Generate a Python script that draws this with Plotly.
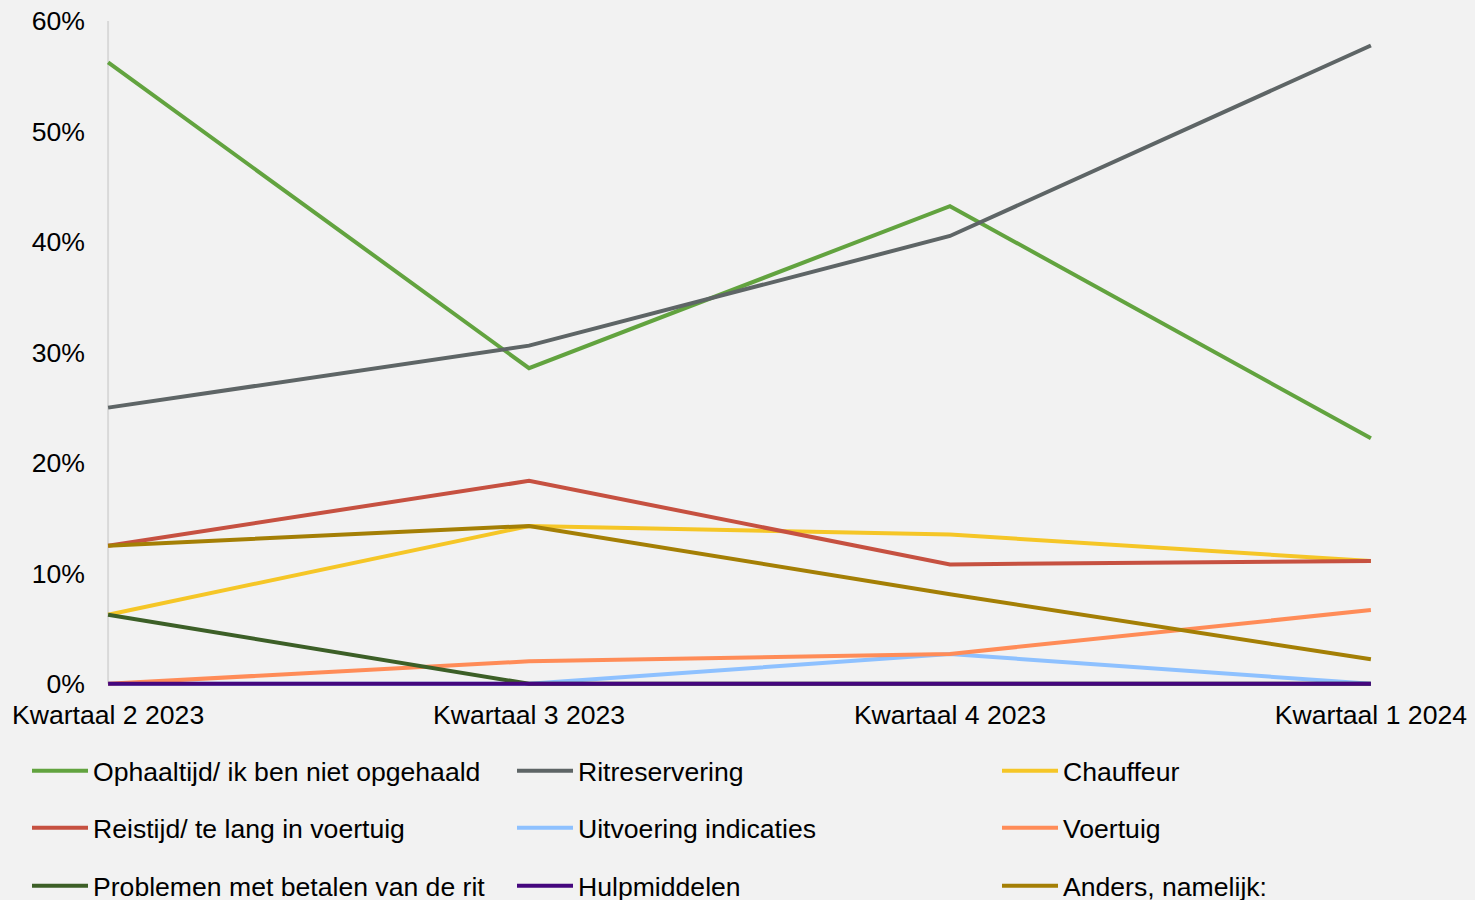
import plotly.graph_objects as go

# Kwartalen (categories on the x-axis)
kwartalen = ["Kwartaal 2 2023", "Kwartaal 3 2023", "Kwartaal 4 2023", "Kwartaal 1 2024"]

# Share of complaints per category (percent)
ophaaltijd = [56.25, 28.57, 43.24, 22.22]
ritreservering = [25.0, 30.61, 40.54, 57.78]
chauffeur = [6.25, 14.29, 13.51, 11.11]
reistijd = [12.5, 18.37, 10.81, 11.11]
uitvoering_indicaties = [0.0, 0.0, 2.70, 0.0]
voertuig = [0.0, 2.04, 2.70, 6.67]
problemen_betalen = [6.25, 0.0, 0.0, 0.0]
hulpmiddelen = [0.0, 0.0, 0.0, 0.0]
anders = [12.5, 14.29, 8.11, 2.22]

y_ticks = [0, 10, 20, 30, 40, 50, 60]

series = [
    ("Ophaaltijd/ ik ben niet opgehaald", ophaaltijd, "#62a33f"),
    ("Ritreservering", ritreservering, "#5e6566"),
    ("Chauffeur", chauffeur, "#f5c627"),
    ("Reistijd/ te lang in voertuig", reistijd, "#c65141"),
    ("Uitvoering indicaties", uitvoering_indicaties, "#8ec1ff"),
    ("Voertuig", voertuig, "#ff8c58"),
    ("Problemen met betalen van de rit", problemen_betalen, "#3c5f27"),
    ("Hulpmiddelen", hulpmiddelen, "#45077e"),
    ("Anders, namelijk:", anders, "#a47f05"),
]

FONT = "Liberation Sans, Arial, sans-serif"
FS = 26.6
W, H = 1475, 900

# legend grid: 3 columns x 3 rows, one legend per entry
col_text_x = [93, 578, 1063]
row_y = [771, 828, 886]

legend_common = dict(
    orientation="h", xref="container", yref="container",
    xanchor="left", yanchor="middle",
    itemwidth=56,
    font=dict(family=FONT, size=FS, color="#000000"),
    bgcolor="rgba(0,0,0,0)", borderwidth=0,
)

fig = go.Figure()
legends = {}
for i, (name, vals, color) in enumerate(series):
    lg = "legend" if i == 0 else f"legend{i + 1}"
    r, c = divmod(i, 3)
    legends[lg] = dict(legend_common, x=(col_text_x[c] - 66) / W, y=1 - row_y[r] / H)
    fig.add_trace(go.Scatter(
        x=kwartalen, y=vals, name=name, mode="lines",
        line=dict(color=color, width=4),
        legend=lg,
    ))

# vertical value axis line at the first category
fig.add_shape(type="line", xref="x", yref="y", x0=0, x1=0, y0=0, y1=60,
              line=dict(color="#d9d9d9", width=2), layer="below")

fig.update_layout(
    width=W, height=H,
    paper_bgcolor="#f2f2f2", plot_bgcolor="#f2f2f2",
    margin=dict(l=106, r=102, t=21, b=214, autoexpand=False),
    font=dict(family=FONT, size=FS, color="#000000"),
    showlegend=True,
    xaxis=dict(
        type="category", range=[-0.005, 3.005],
        showgrid=False, zeroline=False, showline=False,
        ticks="", ticklabelstandoff=10,
        tickfont=dict(family=FONT, size=FS, color="#000000"),
    ),
    yaxis=dict(
        range=[-0.2, 60], tickvals=y_ticks,
        ticktext=[f"{v}%" for v in y_ticks],
        showgrid=False, zeroline=False, showline=False,
        ticks="", ticklabelstandoff=20,
        tickfont=dict(family=FONT, size=FS, color="#000000"),
    ),
    **legends,
)

fig.write_html("out.html")
